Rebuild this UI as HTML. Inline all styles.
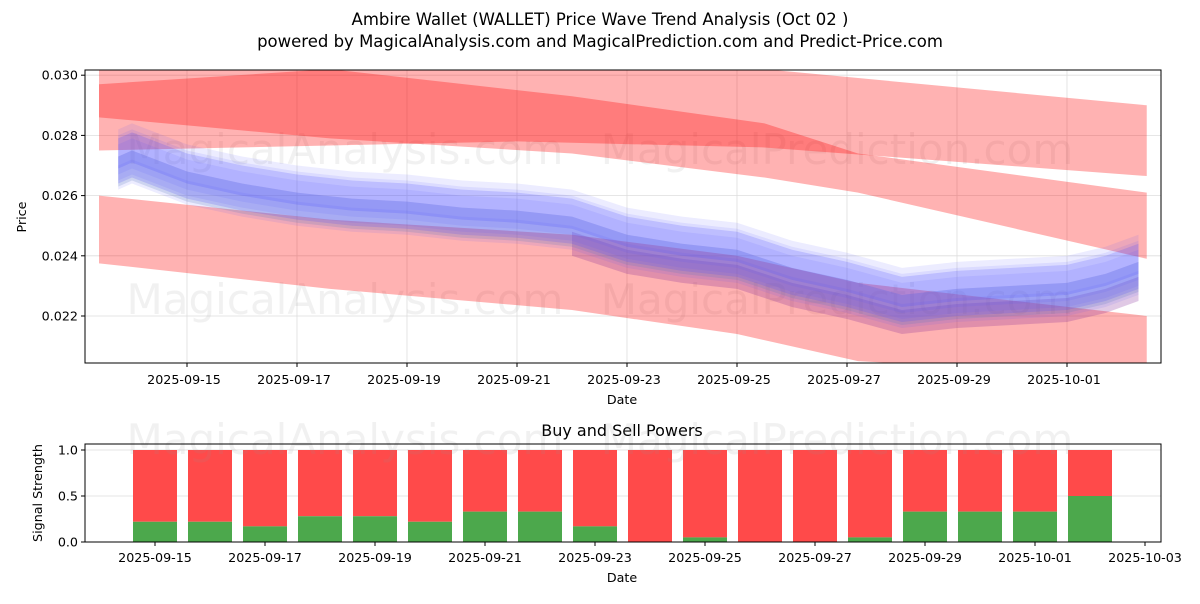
<!DOCTYPE html>
<html><head><meta charset="utf-8"><style>
body{margin:0;background:#fff;font-family:"DejaVu Sans","Liberation Sans",sans-serif;}
svg text{font-family:"DejaVu Sans","Liberation Sans",sans-serif;}
</style></head><body>
<svg id="c" width="1200" height="600" xmlns="http://www.w3.org/2000/svg"></svg>
<script>
// ---- data (day offsets from 2025-09-15) ----
const xTickLabels=["2025-09-15","2025-09-17","2025-09-19","2025-09-21","2025-09-23","2025-09-25","2025-09-27","2025-09-29","2025-10-01"];
const xTickDays=[0,2,4,6,8,10,12,14,16];
const yTickVals=[0.022,0.024,0.026,0.028,0.030];
const yTickLabels=["0.022","0.024","0.026","0.028","0.030"];
const priceDays=[-1.25,-1,0,1,2,3,4,5,6,7,8,9,10,11,12,13,14,15,16,16.7,17.3];
const priceVals=[0.0271,0.0273,0.0266,0.0262,0.0259,0.0257,0.0256,0.0254,0.0253,0.0251,0.0245,0.0242,0.0240,0.0234,0.0230,0.0225,0.0227,0.0228,0.0229,0.0232,0.0236];
const layerHalfWidths=[0.0002,0.0004,0.0006,0.0008,0.0003,0.0005,0.0007,0.0010];
const layerShifts=[0,-0.0002,0.0002,0.0001,-0.0004,0.0003,-0.0001,0.0001];
const bandADays=[-1.6,6,10.5,17.45];
const bandAUpper=[0.0304,0.0303,0.0302,0.0290];
const bandALower=[0.0275,0.0278,0.0276,0.02665];
const bandBDays=[-1.6,2.6,7,10.5,12.2,17.45];
const bandBUpper=[0.0297,0.0302,0.0293,0.0284,0.0274,0.0261];
const bandBLower=[0.0286,0.0279,0.0274,0.0266,0.0261,0.0239];
const bandCDays=[-1.6,2.6,7,10,12.2,17.45];
const bandCUpper=[0.0260,0.0252,0.0247,0.0240,0.0231,0.0220];
const bandCLower=[0.02375,0.0229,0.0222,0.0214,0.0205,0.0200];
const barDays=[0,1,2,3,4,5,6,7,8,9,10,11,12,13,14,15,16,17];
const buyVals=[0.22,0.22,0.17,0.28,0.28,0.22,0.33,0.33,0.17,0,0.05,0,0,0.05,0.33,0.33,0.33,0.5];
const bTickLabels=["2025-09-15","2025-09-17","2025-09-19","2025-09-21","2025-09-23","2025-09-25","2025-09-27","2025-09-29","2025-10-01","2025-10-03"];
const bTickDays=[0,2,4,6,8,10,12,14,16,18];
const sTickVals=[0,0.5,1.0];
const sTickLabels=["0.0","0.5","1.0"];

const svg=document.getElementById('c');const NS="http://www.w3.org/2000/svg";
function mk(t,a,p){const e=document.createElementNS(NS,t);for(const k in a)e.setAttribute(k,a[k]);(p||svg).appendChild(e);return e;}
const L=85,R=1161,T=70,B=363;
const X=d=>187+55*d;
const Y=v=>316-(v-0.022)/0.002*60.2;
const bX=d=>155+55*d, bT=444,bB=542;
const bY=v=>542-v*92;
function txt(x,y,s,o){const e=mk('text',Object.assign({x:x,y:y,'font-size':12.7,fill:'#000'},o||{}));e.textContent=s;return e;}

const t1=txt(600,25,"Ambire Wallet (WALLET) Price Wave Trend Analysis (Oct 02 )",{'text-anchor':'middle','font-size':16.5});

const t2=txt(600,47,"powered by MagicalAnalysis.com and MagicalPrediction.com and Predict-Price.com",{'text-anchor':'middle','font-size':16.5});


const clip=mk('clipPath',{id:'cp'});mk('rect',{x:L,y:T,width:R-L,height:B-T},clip);
const g=mk('g',{'clip-path':'url(#cp)'});
xTickDays.forEach(d=>{const l=mk('line',{x1:X(d),x2:X(d),y1:T,y2:B,stroke:'#ddd','stroke-width':0.8},g);});
yTickVals.forEach(v=>{const l=mk('line',{x1:L,x2:R,y1:Y(v),y2:Y(v),stroke:'#ddd','stroke-width':0.8},g);});
[[345,150,"MagicalAnalysis.com"],[837,150,"MagicalPrediction.com"],[345,300,"MagicalAnalysis.com"],[837,300,"MagicalPrediction.com"]].forEach(w=>{const e=txt(w[0],w[1]+14,w[2],{'text-anchor':'middle','font-size':42,fill:'rgba(150,150,150,0.13)'});g.appendChild(e);});
function band(days,up,lo,name,fill){let pts=[];days.forEach((d,i)=>pts.push(X(d)+','+Y(up[i])));for(let i=days.length-1;i>=0;i--)pts.push(X(days[i])+','+Y(lo[i]));const p=mk('polygon',{points:pts.join(' '),fill:fill},g);}
band(bandADays,bandAUpper,bandALower,'upper-band','rgba(255,0,0,0.3)');
band(bandBDays,bandBUpper,bandBLower,'middle-band','rgba(255,0,0,0.3)');
band(bandCDays,bandCUpper,bandCLower,'lower-band','rgba(255,0,0,0.3)');
{let pts=[];const idx=priceDays.map((d,i)=>i).filter(i=>priceDays[i]>=7);
idx.forEach(i=>pts.push(X(priceDays[i])+','+Y(priceVals[i]-0.0003)));for(let k=idx.length-1;k>=0;k--){const i=idx[k];pts.push(X(priceDays[i])+','+Y(priceVals[i]-0.0011));}
const p=mk('polygon',{points:pts.join(' '),fill:'rgba(130,40,150,0.25)'},g);}
{let pts=[];priceDays.forEach((d,i)=>pts.push(X(d)+','+Y(priceVals[i]+0.0002)));for(let i=priceDays.length-1;i>=0;i--)pts.push(X(priceDays[i])+','+Y(priceVals[i]-0.0008));const p=mk('polygon',{points:pts.join(' '),fill:'rgba(120,190,110,0.12)'},g);}
layerHalfWidths.forEach((w,j)=>{let pts=[];priceDays.forEach((d,i)=>pts.push(X(d)+','+Y(priceVals[i]+layerShifts[j]+w)));for(let i=priceDays.length-1;i>=0;i--)pts.push(X(priceDays[i])+','+Y(priceVals[i]+layerShifts[j]-w));const p=mk('polygon',{points:pts.join(' '),fill:'rgba(80,80,255,0.11)'},g);});
const fr=mk('rect',{x:L,y:T,width:R-L,height:B-T,fill:'none',stroke:'#000','stroke-width':1});
xTickDays.forEach((d,i)=>{mk('line',{x1:X(d),x2:X(d),y1:B,y2:B+4,stroke:'#000'});const e=txt(X(d)-3,B+21,xTickLabels[i],{'text-anchor':'middle'});});
yTickVals.forEach((v,i)=>{mk('line',{x1:L-4,x2:L,y1:Y(v),y2:Y(v),stroke:'#000'});const e=txt(L-7,Y(v)+4.5,yTickLabels[i],{'text-anchor':'end'});});
let e=txt(622,404,"Date",{'text-anchor':'middle'});
e=txt(26,217,"Price",{'text-anchor':'middle',transform:'rotate(-90 26 217)'});

e=txt(622,436,"Buy and Sell Powers",{'text-anchor':'middle','font-size':16});
const g2=mk('g',{});
sTickVals.forEach(v=>{const l=mk('line',{x1:L,x2:R,y1:bY(v),y2:bY(v),stroke:'#ddd','stroke-width':0.8},g2);});
[[345,440,"MagicalAnalysis.com"],[837,440,"MagicalPrediction.com"]].forEach(w=>{const e=txt(w[0],w[1]+14,w[2],{'text-anchor':'middle','font-size':42,fill:'rgba(150,150,150,0.13)'});});
barDays.forEach((d,i)=>{const s=mk('rect',{x:bX(d)-22,y:bY(1),width:44,height:bY(buyVals[i])-bY(1),fill:'#ff4a4a'},g2);
const b=mk('rect',{x:bX(d)-22,y:bY(buyVals[i]),width:44,height:bY(0)-bY(buyVals[i]),fill:'#4ca84c'},g2);});
const fr2=mk('rect',{x:L,y:bT,width:R-L,height:bB-bT,fill:'none',stroke:'#000','stroke-width':1});
bTickDays.forEach((d,i)=>{mk('line',{x1:bX(d),x2:bX(d),y1:bB,y2:bB+4,stroke:'#000'});const e=txt(bX(d),bB+20,bTickLabels[i],{'text-anchor':'middle'});});
sTickVals.forEach((v,i)=>{mk('line',{x1:L-4,x2:L,y1:bY(v),y2:bY(v),stroke:'#000'});const e=txt(L-7,bY(v)+4.5,sTickLabels[i],{'text-anchor':'end'});});
e=txt(622,582,"Date",{'text-anchor':'middle'});
e=txt(42,493,"Signal Strength",{'text-anchor':'middle',transform:'rotate(-90 42 493)'});
</script>
</body></html>
